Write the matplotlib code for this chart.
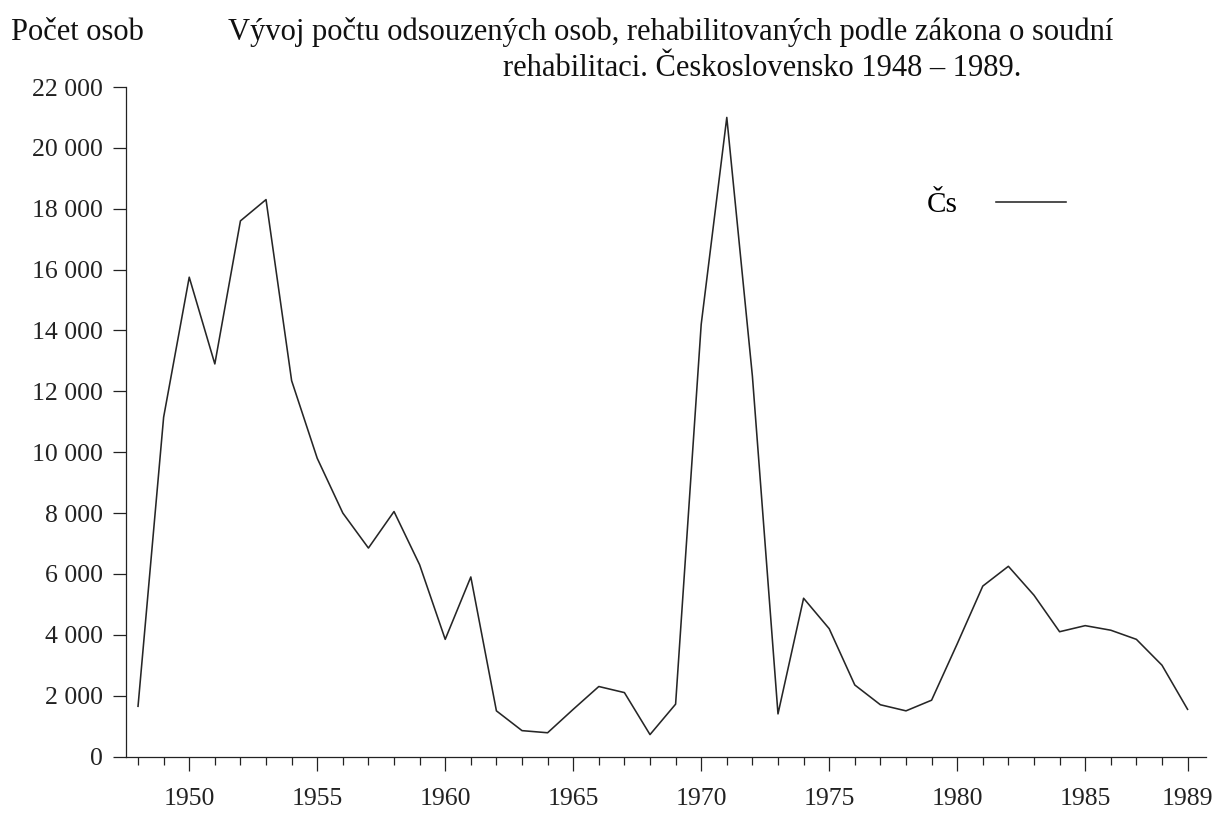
import matplotlib
matplotlib.use("Agg")
import matplotlib.pyplot as plt
from matplotlib.lines import Line2D
from matplotlib.ticker import FuncFormatter

# data (počet rehabilitovaných osob podle roku odsouzení)
years = list(range(1948, 1990))
cs = [1650, 11150, 15750, 12900, 17600, 18300, 12350, 9800, 8000, 6850,
      8050, 6300, 3850, 5900, 1500, 850, 780, 1550, 2300, 2100,
      720, 1720, 14200, 21000, 12500, 1400, 5200, 4200, 2350, 1700,
      1500, 1850, 3700, 5600, 6250, 5300, 4100, 4300, 4150, 3850,
      3000, 1550]
major_years = [1950, 1955, 1960, 1965, 1970, 1975, 1980, 1985, 1989]
y_ticks = list(range(0, 22001, 2000))

plt.rcParams['font.family'] = ['Liberation Serif', 'DejaVu Serif']

W, H = 1217, 819
fig = plt.figure(figsize=(W / 100, H / 100), dpi=100)
ax = fig.add_axes([126 / W, 1 - 756.5 / H, (1206 - 126) / W, (756.5 - 87) / H])

ax.plot(years, cs, color='#262626', lw=1.15)

ax.set_xlim(1947.53, 1989.72)
ax.set_ylim(0, 22000)

ax.set_xticks(major_years)
ax.set_xticks(years, minor=True)
ax.set_yticks(y_ticks)
ax.yaxis.set_major_formatter(FuncFormatter(lambda v, p: f"{int(v):,}".replace(",", " ")))

ax.tick_params(axis='x', which='major', direction='out', length=10, width=0.9, pad=13,
               colors='#222222', labelsize=18.5)
ax.tick_params(axis='x', which='minor', direction='out', length=6, width=0.9, colors='#222222')
ax.tick_params(axis='y', which='major', direction='out', length=9.5, width=0.9, pad=7,
               colors='#222222', labelsize=18.5)

for s in ['top', 'right']:
    ax.spines[s].set_visible(False)
for s in ['left', 'bottom']:
    ax.spines[s].set_linewidth(0.9)
    ax.spines[s].set_color('#222222')

# texts above the plot
fig.text(11 / W, 1 - 32 / H, "Počet osob", ha='left', va='center', fontsize=22, color='#111111')
fig.text(228 / W, 1 - 32 / H,
         "Vývoj počtu odsouzených osob, rehabilitovaných podle zákona o soudní",
         ha='left', va='center', fontsize=22, color='#111111')
fig.text(503 / W, 1 - 69 / H, "rehabilitaci. Československo 1948 – 1989.",
         ha='left', va='center', fontsize=22, color='#111111')

handle = Line2D([], [], color='#262626', lw=1.15)
ax.legend([handle], ["Čs"], loc='center right', markerfirst=False, frameon=False,
          handlelength=2.4, handletextpad=1.3, borderpad=0, borderaxespad=0,
          fontsize=21, bbox_to_anchor=(1066 / W, 1 - 205 / H),
          bbox_transform=fig.transFigure)

fig.savefig("out.png", dpi=100)
